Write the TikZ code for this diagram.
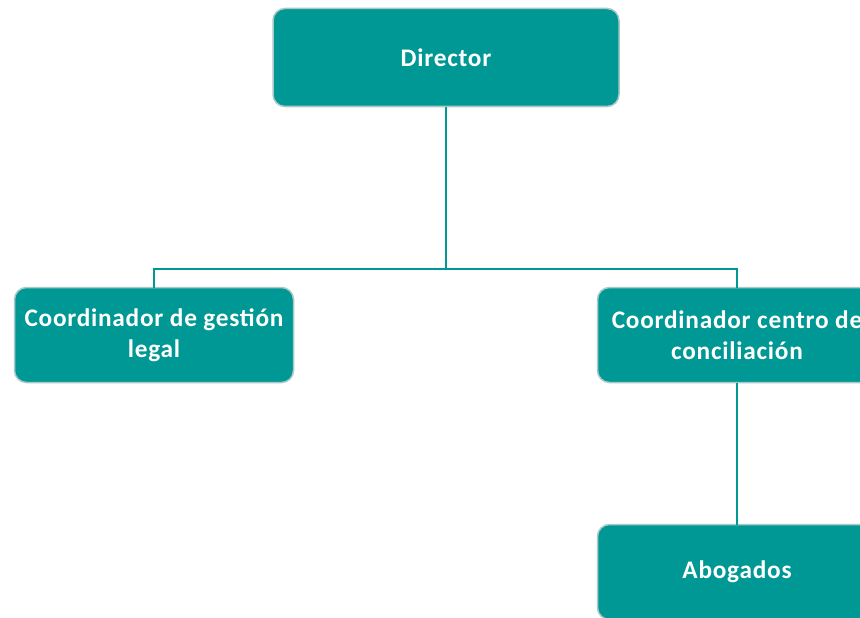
\documentclass[tikz,border=0pt]{standalone}
\usepackage{fontspec}
\setmainfont{Carlito}[LetterSpace=3]
\definecolor{teal1}{HTML}{009895}
\definecolor{edge1}{HTML}{A9C9C8}
\begin{document}
\begin{tikzpicture}[x=1pt,y=-1pt,
  box/.style={draw=edge1,line width=1.5pt,fill=teal1,rounded corners=12pt,
    text=white,font=\fontsize{25.3}{31}\selectfont\bfseries,align=center,
    inner sep=0pt,outer sep=0pt},
  link/.style={draw=teal1,line width=2pt}]
\path[use as bounding box] (0,0) rectangle (860,618);
\clip (0,0) rectangle (860,618);
\node[box,minimum width=346pt,minimum height=98pt] (dir) at (446,57.5) {Director};
\node[box,minimum width=279pt,minimum height=95pt] (left) at (154,335) {Coordinador de gestión\\legal};
\node[box,minimum width=279pt,minimum height=95pt] (right) at (737,335) {Coordinador centro de\\conciliación};
\node[box,minimum width=279pt,minimum height=95pt] (abog) at (737,572) {Abogados};
\coordinate (bus) at (446,269);
\draw[link] (dir.south) -- (bus) -| (left.north);
\draw[link] (bus) -| (right.north);
\draw[link] (right.south) -- (abog.north);
\end{tikzpicture}
\end{document}
